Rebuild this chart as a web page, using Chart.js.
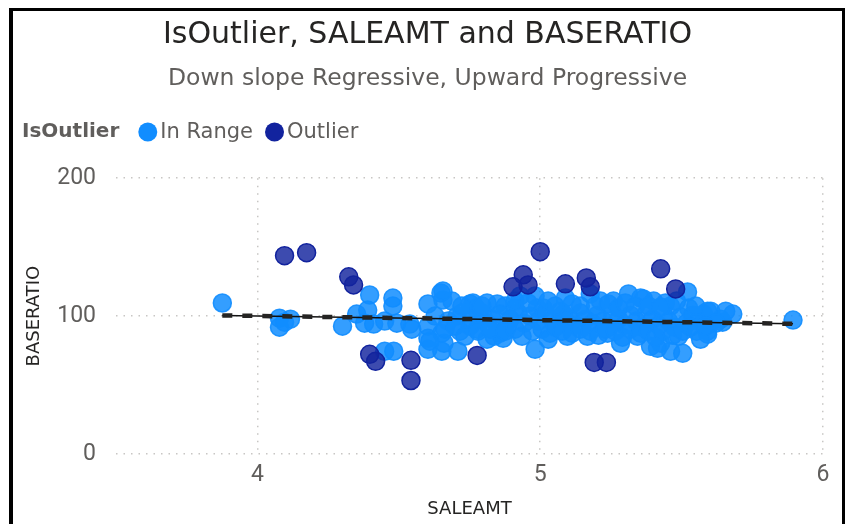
<!DOCTYPE html>
<html>
<head>
<meta charset="utf-8">
<script src="https://cdn.jsdelivr.net/npm/chart.js@4.4.1/dist/chart.umd.min.js"></script>
<style>
  body { margin: 0; background: #fff; }
  #frame {
    position: absolute; left: 9px; top: 8px;
    width: 829px; height: 520px;
    border-left: 4px solid #000; border-top: 3px solid #000; border-right: 3px solid #000;
  }
  #box { position: relative; width: 829px; height: 513px; }
</style>
</head>
<body>
<div id="frame"><div id="box"><canvas id="scatter"></canvas></div></div>
<script>
// SALEAMT (x) / BASERATIO (y)
const inRangeX = [3.876, 4.078, 4.117, 4.078, 4.096, 4.301, 4.351, 4.397, 4.390, 4.379,
  4.411, 4.479, 4.479, 4.493, 4.450, 4.450, 4.482, 4.539, 4.546, 4.603,
  4.649, 4.656, 4.688, 4.603, 4.603, 4.603, 4.652, 4.652, 4.660, 4.709,
  4.706, 4.716, 4.752, 4.773, 4.812, 4.848, 4.876, 4.812, 4.837, 4.858,
  4.777, 4.752, 4.812, 4.883, 4.929, 4.982, 4.989, 4.911, 4.982, 5.089,
  5.071, 5.096, 5.035, 5.167, 5.177, 5.213, 5.284, 5.312, 5.365, 5.401,
  5.390, 5.344, 5.238, 5.521, 5.443, 5.461, 5.525, 5.578, 5.681, 5.645,
  5.592, 5.461, 5.504, 5.489, 5.426, 5.894, 4.656, 4.762, 5.011, 5.082,
  4.610, 4.869, 5.592, 5.638, 5.592, 5.415, 5.259, 5.355,
  4.628, 4.674, 4.723, 4.759, 4.794, 4.830, 4.858, 4.894, 4.922, 4.943,
  4.965, 4.993, 5.018, 5.043, 5.064, 5.082, 5.106, 5.124, 5.142, 5.160,
  5.184, 5.202, 5.223, 5.241, 5.255, 5.277, 5.298, 5.319, 5.340, 5.362,
  5.376, 5.397, 5.418, 5.436, 5.454, 5.475, 5.496, 5.518, 5.539, 5.560,
  4.663, 4.699, 4.734, 4.780, 4.823, 4.876, 4.911, 4.936, 4.972, 5.007,
  5.028, 5.053, 5.078, 5.113, 5.142, 5.177, 5.206, 5.230, 5.266, 5.291,
  5.319, 5.355, 5.383, 5.408, 5.433, 5.468, 5.504, 5.532, 5.553, 5.567,
  4.723, 4.794, 4.911, 4.957, 5.028, 5.053, 5.113, 5.142, 5.195, 5.241,
  5.277, 5.301, 5.337, 5.383, 5.426, 5.482, 5.550, 5.603, 5.656, 5.621, 5.585];
const inRangeY = [109.5, 98.5, 97.8, 92.0, 95.6, 92.7, 101.5, 115.3, 104.4, 94.9,
  94.2, 113.1, 107.3, 94.9, 96.4, 74.5, 74.5, 94.2, 90.5, 108.8,
  116.8, 111.7, 110.9, 92.7, 83.9, 75.9, 87.6, 74.5, 80.3, 74.5,
  100.0, 89.1, 108.8, 105.8, 109.5, 108.8, 107.3, 83.2, 85.4, 87.6,
  90.5, 92.7, 94.9, 92.7, 114.6, 114.6, 105.8, 105.8, 75.9, 113.1,
  103.6, 85.4, 87.6, 85.4, 116.1, 110.9, 80.3, 116.1, 112.4, 110.9,
  78.1, 85.4, 87.6, 117.5, 109.5, 107.3, 105.8, 101.5, 101.5, 95.6,
  86.9, 74.5, 73.0, 85.4, 80.3, 97.1, 118.2, 109.5, 105.8, 101.5,
  81.8, 83.9, 103.6, 97.8, 89.1, 76.6, 110.9, 113.1,
  100.0, 96.4, 102.2, 97.8, 102.2, 97.8, 101.5, 97.8, 102.2, 94.9,
  100.0, 96.4, 102.2, 97.8, 94.9, 100.7, 97.8, 93.4, 102.2, 97.8,
  94.9, 100.7, 96.4, 92.0, 102.2, 97.8, 93.4, 100.7, 96.4, 92.0,
  102.2, 97.8, 93.4, 100.7, 96.4, 92.0, 99.3, 94.9, 100.7, 96.4,
  90.5, 92.7, 85.4, 89.1, 90.5, 89.1, 90.5, 85.4, 89.1, 90.5,
  83.2, 92.0, 89.1, 87.6, 90.5, 89.1, 86.1, 90.5, 89.1, 84.7,
  90.5, 87.6, 89.1, 84.7, 89.1, 86.1, 89.1, 92.0, 89.1, 83.2,
  107.3, 107.3, 110.9, 109.5, 110.9, 107.3, 108.8, 107.3, 107.3, 108.8,
  105.8, 109.5, 107.3, 107.3, 106.6, 110.9, 107.3, 103.6, 103.6, 94.9, 92.7];

const outlierX = [4.096, 4.174, 4.323, 4.340, 4.397, 4.418, 4.543, 4.543, 4.777, 4.904,
  4.940, 4.957, 5.000, 5.089, 5.163, 5.177, 5.191, 5.234, 5.426, 5.479];
const outlierY = [143.8, 146.0, 128.5, 122.6, 72.3, 67.2, 67.9, 53.3, 71.5, 121.2,
  129.9, 122.6, 146.7, 123.4, 127.7, 121.2, 66.4, 66.4, 134.3, 119.7];

// trend line end points
const trendX = [3.876, 5.894];
const trendY = [100.5, 94.4];

const xTicks = [4, 5, 6];
const yTicks = [0, 100, 200];
const seriesLabels = ['In Range', 'Outlier'];

function toPoints(xs, ys) {
    return xs.map((x, i) => ({ x: x, y: ys[i] }));
}

const FONT = '"DejaVu Sans", sans-serif';
const TICK_FONT = 'Roboto, sans-serif';
const GREY = '#605E5C';

// legend drawn in one row after a bold field name, like the Power BI header
const inlineLegend = {
    id: 'inlineLegend',
    afterDraw(chart) {
        const ctx = chart.ctx;
        const y = 121;
        let x = 9;
        ctx.save();
        ctx.textBaseline = 'middle';
        ctx.fillStyle = GREY;
        ctx.font = 'bold 20px ' + FONT;
        ctx.fillText('IsOutlier', x, y);
        x += ctx.measureText('IsOutlier').width + 19;
        ctx.font = '21px ' + FONT;
        seriesLabels.forEach(name => {
            const d = chart.data.datasets.find(ds => ds.label === name);
            ctx.beginPath();
            ctx.arc(x + 9.5, y, 9.5, 0, Math.PI * 2);
            ctx.fillStyle = d.legendColor;
            ctx.fill();
            x += 22;
            ctx.fillStyle = GREY;
            ctx.fillText(d.label, x, y + 1);
            x += ctx.measureText(d.label).width + 12;
        });
        ctx.restore();
    }
};

const ctx = document.getElementById('scatter').getContext('2d');
new Chart(ctx, {
    type: 'scatter',
    data: {
        datasets: [{
            label: 'Trend',
            type: 'line',
            data: toPoints(trendX, trendY),
            borderColor: '#252423',
            borderWidth: 4.5,
            borderDash: [10, 10],
            pointRadius: 0,
            order: -2
        }, {
            label: 'TrendLine',
            type: 'line',
            data: toPoints(trendX, trendY),
            borderColor: '#111',
            borderWidth: 1.5,
            pointRadius: 0,
            order: -1
        }, {
            label: seriesLabels[1],
            legendColor: '#12239E',
            data: toPoints(outlierX, outlierY),
            backgroundColor: 'rgba(18, 35, 158, 0.82)',
            borderColor: '#12239E',
            borderWidth: 1.5,
            pointRadius: 9,
            order: 0
        }, {
            label: seriesLabels[0],
            legendColor: '#118DFF',
            data: toPoints(inRangeX, inRangeY),
            backgroundColor: 'rgba(17, 141, 255, 0.85)',
            borderColor: 'rgba(17, 141, 255, 0.9)',
            borderWidth: 1.5,
            pointRadius: 9,
            order: 1
        }]
    },
    options: {
        responsive: true,
        maintainAspectRatio: false,
        animation: false,
        layout: { padding: 0 },
        plugins: {
            legend: { display: false },
            tooltip: { enabled: false },
            title: {
                display: true,
                text: 'IsOutlier, SALEAMT and BASERATIO',
                color: '#252423',
                font: { family: FONT, size: 30, weight: 'normal' },
                padding: { top: 6, bottom: 0 }
            },
            subtitle: {
                display: true,
                text: 'Down slope Regressive, Upward Progressive',
                color: GREY,
                font: { family: FONT, size: 23.5 },
                padding: { top: 12, bottom: 85 }
            }
        },
        scales: {
            x: {
                type: 'linear',
                min: 3.5,
                max: 6,
                afterBuildTicks: (axis) => { axis.ticks = xTicks.map(v => ({ value: v })); },
                afterFit: (axis) => { axis.height = 70; },
                grid: { color: '#C8C6C4', lineWidth: 1.5, drawTicks: false },
                border: { display: false, dash: [1.5, 6] },
                ticks: { color: GREY, font: { family: TICK_FONT, size: 23 }, padding: 7 },
                title: {
                    display: true, text: 'SALEAMT', color: '#252423',
                    font: { family: FONT, size: 18 }, padding: { top: 0, bottom: 4 }
                }
            },
            y: {
                min: 0,
                max: 200,
                afterBuildTicks: (axis) => { axis.ticks = yTicks.map(v => ({ value: v })); },
                afterFit: (axis) => { axis.width = 103; },
                grid: { color: '#C8C6C4', lineWidth: 1.5, drawTicks: false },
                border: { display: false, dash: [1.5, 6] },
                ticks: { color: GREY, font: { family: TICK_FONT, size: 23 }, padding: 20 },
                title: {
                    display: true, text: 'BASERATIO', color: '#252423',
                    font: { family: FONT, size: 18 }, padding: { top: 11, bottom: 0 }
                }
            },
            // empty right gutter so the titles stay centred on the whole visual
            gutter: {
                type: 'linear',
                position: 'right',
                display: true,
                afterFit: (axis) => { axis.width = 19; },
                grid: { display: false },
                ticks: { display: false },
                border: { display: false }
            }
        }
    },
    plugins: [inlineLegend]
});
</script>
</body>
</html>
